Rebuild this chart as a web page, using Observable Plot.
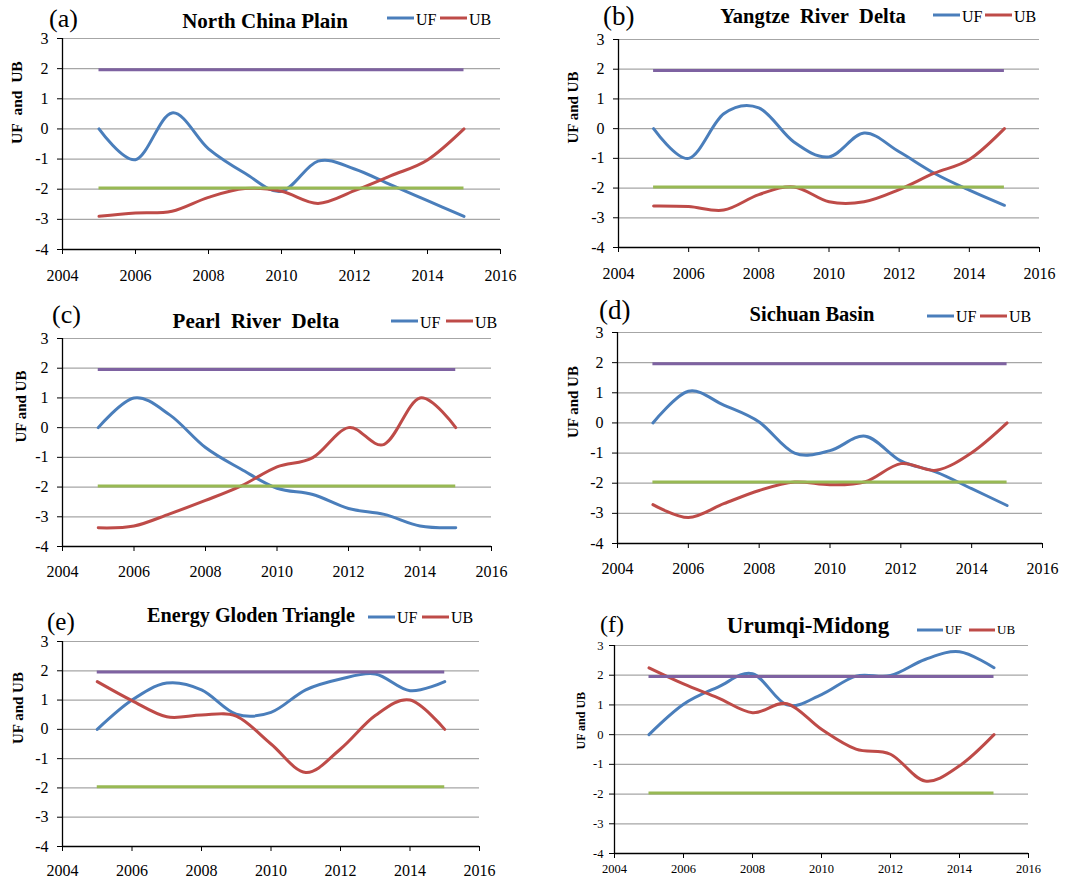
<!DOCTYPE html>
<html>
<head>
<meta charset="utf-8">
<script src="https://cdn.jsdelivr.net/npm/d3@7"></script>
<script src="https://cdn.jsdelivr.net/npm/@observablehq/plot@0.6"></script>
<style>
  body { margin: 0; background: #fff; }
  #root { position: relative; width: 1087px; height: 883px; overflow: hidden; background: #fff; }
  #root svg, #root svg text { font-family: 'Liberation Serif', 'Times New Roman', serif !important; }
  .panel { position: absolute; }
  #overlay { position: absolute; left: 0; top: 0; pointer-events: none; }
</style>
</head>
<body>
<div id="root"></div>
<script>
// ---------- data ----------
const years = [2005, 2006, 2007, 2008, 2009, 2010, 2011, 2012, 2013, 2014, 2015];

const ufA = [0, -1.02, 0.53, -0.66, -1.47, -2.07, -1.07, -1.33, -1.86, -2.38, -2.9];
const ubA = [-2.9, -2.79, -2.73, -2.27, -1.98, -2.07, -2.47, -2.05, -1.55, -1.03, 0];

const ufB = [0, -1.0, 0.5, 0.7, -0.45, -0.95, -0.15, -0.78, -1.5, -2.07, -2.58];
const ubB = [-2.6, -2.62, -2.74, -2.22, -1.96, -2.46, -2.46, -2.05, -1.5, -1.04, 0];

const ufC = [0, 1.0, 0.43, -0.67, -1.4, -2.04, -2.25, -2.72, -2.92, -3.31, -3.37];
const ubC = [-3.37, -3.31, -2.9, -2.45, -1.96, -1.32, -1.01, 0, -0.56, 1.0, 0];

const ufD = [0, 1.05, 0.59, 0.03, -1.0, -0.92, -0.44, -1.26, -1.63, -2.18, -2.74];
const ubD = [-2.71, -3.14, -2.68, -2.24, -1.96, -2.05, -1.95, -1.35, -1.57, -0.99, 0];

const ufE = [0, 1.0, 1.58, 1.35, 0.52, 0.58, 1.35, 1.72, 1.89, 1.32, 1.63];
const ubE = [1.63, 0.98, 0.43, 0.49, 0.45, -0.5, -1.47, -0.67, 0.47, 1.0, 0];

const ufF = [0, 1.02, 1.6, 2.05, 1.0, 1.35, 1.97, 1.99, 2.53, 2.79, 2.25];
const ubF = [2.25, 1.71, 1.24, 0.74, 1.04, 0.18, -0.49, -0.66, -1.56, -1.05, 0];

const thresholds = [1.96, -1.96];
const xTicks = [2004, 2006, 2008, 2010, 2012, 2014, 2016];
const yTicks = [-4, -3, -2, -1, 0, 1, 2, 3];
const seriesNames = ["UF", "UB"];
const yLabel = "UF and UB";
const panelLetters = ["(a)", "(b)", "(c)", "(d)", "(e)", "(f)"];
const panelTitles = ["North China Plain", "Yangtze\u00a0\u00a0River\u00a0\u00a0Delta", "Pearl\u00a0\u00a0River\u00a0\u00a0Delta",
                     "Sichuan Basin", "Energy Gloden Triangle", "Urumqi-Midong"];

// ---------- style / layout ----------
const C = { uf: "#4a7ebb", ub: "#be4b48", upper: "#7e62a1", lower: "#98b954", grid: "#a6a6a6", axis: "#000" };
const FONT = "'Liberation Serif', 'Times New Roman', serif";

const layout = [
  { uf: ufA, ub: ubA, x0: 62, x1: 500, y0: 38, y1: 249, fs: 16, xpad: 15, ypad: 9, lab: -45, labFs: 15.5, labText: "UF\u00a0\u00a0and\u00a0\u00a0UB",
    letter: [49, 27, 26], title: [265, 28, 21], leg: [387, 18, 25, 440, 16] },
  { uf: ufB, ub: ubB, x0: 618, x1: 1039, y0: 39, y1: 247, fs: 16, xpad: 15, ypad: 9, lab: -45, labFs: 15, labText: yLabel,
    letter: [603, 25, 27], title: [813, 23, 20.5], leg: [933, 15, 22, 985, 16] },
  { uf: ufC, ub: ubC, x0: 62, x1: 491, y0: 338, y1: 546, fs: 16, xpad: 14, ypad: 9, lab: -41, labFs: 15, labText: yLabel,
    letter: [52, 323, 26], title: [256, 328, 21], leg: [391, 321, 328, 446, 16] },
  { uf: ufD, ub: ubD, x0: 617, x1: 1042, y0: 332, y1: 543, fs: 16, xpad: 14, ypad: 9, lab: -44, labFs: 15, labText: yLabel,
    letter: [599, 319, 27], title: [812, 321, 20.5], leg: [927, 316, 322, 980, 16] },
  { uf: ufE, ub: ubE, x0: 62, x1: 479, y0: 641, y1: 846, fs: 16, xpad: 13, ypad: 9, lab: -44, labFs: 15, labText: yLabel,
    letter: [47, 630, 25], title: [251, 622, 20.2], leg: [368, 617, 623, 422, 16] },
  { uf: ufF, ub: ubF, x0: 614, x1: 1028, y0: 645, y1: 853, fs: 12.5, xpad: 6, ypad: 6, lab: -33, labFs: 12, labText: yLabel,
    letter: [600, 632, 24], title: [808, 633, 23], leg: [917, 630, 634, 969, 13] }
];

const ML = 60, MR = 40, MT = 10, MB = 40;
const root = document.getElementById("root");
const smooth = d3.curveCardinal.tension(0);

layout.forEach((p) => {
  const data = years.map((yr, i) => ({ year: yr, uf: p.uf[i], ub: p.ub[i] }));
  const width = p.x1 - p.x0 + ML + MR;
  const height = p.y1 - p.y0 + MT + MB;
  const chart = Plot.plot({
    width, height,
    marginLeft: ML, marginRight: MR, marginTop: MT, marginBottom: MB,
    x: { domain: [xTicks[0], xTicks[xTicks.length - 1]] },
    y: { domain: [yTicks[0], yTicks[yTicks.length - 1]] },
    style: { fontFamily: FONT, fontSize: p.fs + "px", color: "#000", background: "transparent", overflow: "visible" },
    marks: [
      Plot.ruleY(yTicks.filter((v) => v > yTicks[0]), { stroke: C.grid, strokeWidth: 1.2 }),
      Plot.line(data, { x: "year", y: "uf", stroke: C.uf, strokeWidth: 3, curve: smooth }),
      Plot.line(data, { x: "year", y: "ub", stroke: C.ub, strokeWidth: 3, curve: smooth }),
      Plot.ruleY([thresholds[0]], { x1: years[0], x2: years[years.length - 1], stroke: C.upper, strokeWidth: 3 }),
      Plot.ruleY([thresholds[1]], { x1: years[0], x2: years[years.length - 1], stroke: C.lower, strokeWidth: 3 }),
      Plot.ruleX([xTicks[0]], { stroke: C.axis, strokeWidth: 1.3 }),
      Plot.ruleY([yTicks[0]], { stroke: C.axis, strokeWidth: 1.3 }),
      Plot.axisX(xTicks, { tickSize: 5, tickPadding: p.xpad, fontSize: p.fs, fontFamily: FONT, label: null, tickFormat: (d) => String(d), stroke: C.axis }),
      Plot.axisY(yTicks, { tickSize: 5, tickPadding: p.ypad, fontSize: p.fs, fontFamily: FONT, label: null, tickFormat: (d) => String(d), stroke: C.axis }),
      Plot.text([p.labText], { text: (d) => d, frameAnchor: "left", dx: p.lab, rotate: -90, fontWeight: "bold", fontFamily: FONT, fontSize: p.labFs, fill: "#000" })
    ]
  });
  chart.classList.add("panel");
  chart.style.left = (p.x0 - ML) + "px";
  chart.style.top = (p.y0 - MT) + "px";
  root.appendChild(chart);
});

// ---------- titles, panel letters, legends ----------
const overlay = d3.select(root).append("svg").attr("id", "overlay").attr("width", 1087).attr("height", 883)
  .style("font-family", FONT);

layout.forEach((p, i) => {
  overlay.append("text").attr("x", p.letter[0]).attr("y", p.letter[1]).attr("font-size", p.letter[2])
    .attr("fill", "#000").text(panelLetters[i]);
  overlay.append("text").attr("x", p.title[0]).attr("y", p.title[1]).attr("font-size", p.title[2])
    .attr("font-weight", "bold").attr("text-anchor", "middle").attr("fill", "#000").text(panelTitles[i]);
  const [bx, ly, tb, rx, lfs] = p.leg;
  const segW = lfs === 16 ? 27 : 26;
  [[bx, C.uf, seriesNames[0]], [rx, C.ub, seriesNames[1]]].forEach(([x, col, name]) => {
    overlay.append("line").attr("x1", x).attr("x2", x + segW).attr("y1", ly).attr("y2", ly)
      .attr("stroke", col).attr("stroke-width", 3);
    overlay.append("text").attr("x", x + segW + 2).attr("y", tb).attr("font-size", lfs).attr("fill", "#000").text(name);
  });
});
</script>
</body>
</html>
